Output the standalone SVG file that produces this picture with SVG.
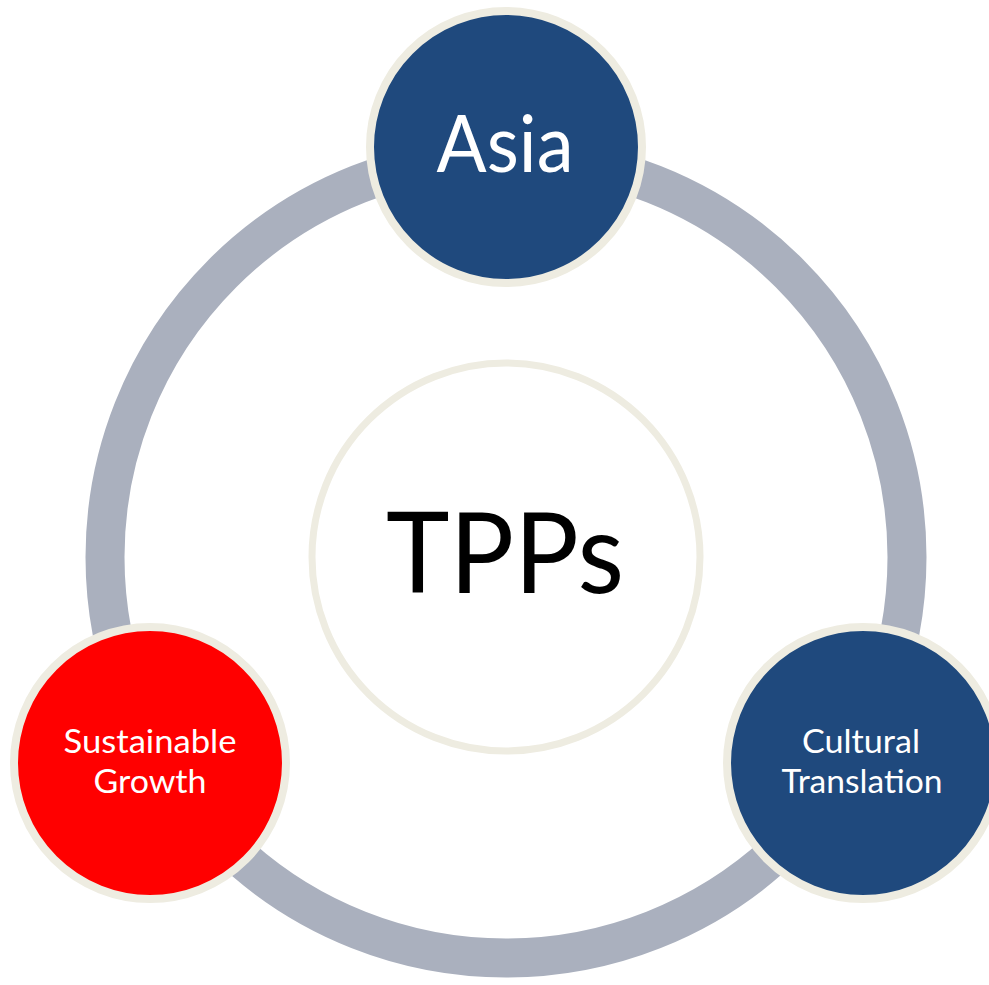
<svg xmlns="http://www.w3.org/2000/svg" width="989" height="985" viewBox="0 0 989 985">
<style>
.node{stroke:#EEECE1;stroke-width:8}
.lbl{font-family:Lato,"Open Sans","Liberation Sans",sans-serif;fill:#FFFFFF;text-anchor:middle}
</style>
<rect width="989" height="985" fill="#FFFFFF"/>
<g id="connectors">
<circle cx="506" cy="557" r="401" fill="none" stroke="#AAB0BE" stroke-width="39"/>
</g>
<g id="center">
<circle cx="506" cy="557" r="194" fill="#FFFFFF" stroke="#EEECE1" stroke-width="7"/>
<text x="505" y="593" font-family="Lato,'Open Sans','Liberation Sans',sans-serif" font-size="112" fill="#000000" text-anchor="middle" textLength="238" lengthAdjust="spacingAndGlyphs">TPPs</text>
</g>
<g id="asia">
<circle class="node" cx="506" cy="147" r="136" fill="#1F497D"/>
<text class="lbl" x="505" y="172" font-size="80" textLength="137" lengthAdjust="spacingAndGlyphs">Asia</text>
</g>
<g id="sustainable">
<circle class="node" cx="150" cy="763" r="136" fill="#FF0000"/>
<text class="lbl" x="150" y="753" font-size="33" textLength="173" lengthAdjust="spacingAndGlyphs">Sustainable</text>
<text class="lbl" x="150" y="793" font-size="33" textLength="113" lengthAdjust="spacingAndGlyphs">Growth</text>
</g>
<g id="cultural">
<circle class="node" cx="863" cy="763" r="136" fill="#1F497D"/>
<text class="lbl" x="861" y="753" font-size="33" textLength="118" lengthAdjust="spacingAndGlyphs">Cultural</text>
<text class="lbl" x="862" y="793" font-size="33" textLength="161" lengthAdjust="spacingAndGlyphs">Translation</text>
</g>
</svg>
